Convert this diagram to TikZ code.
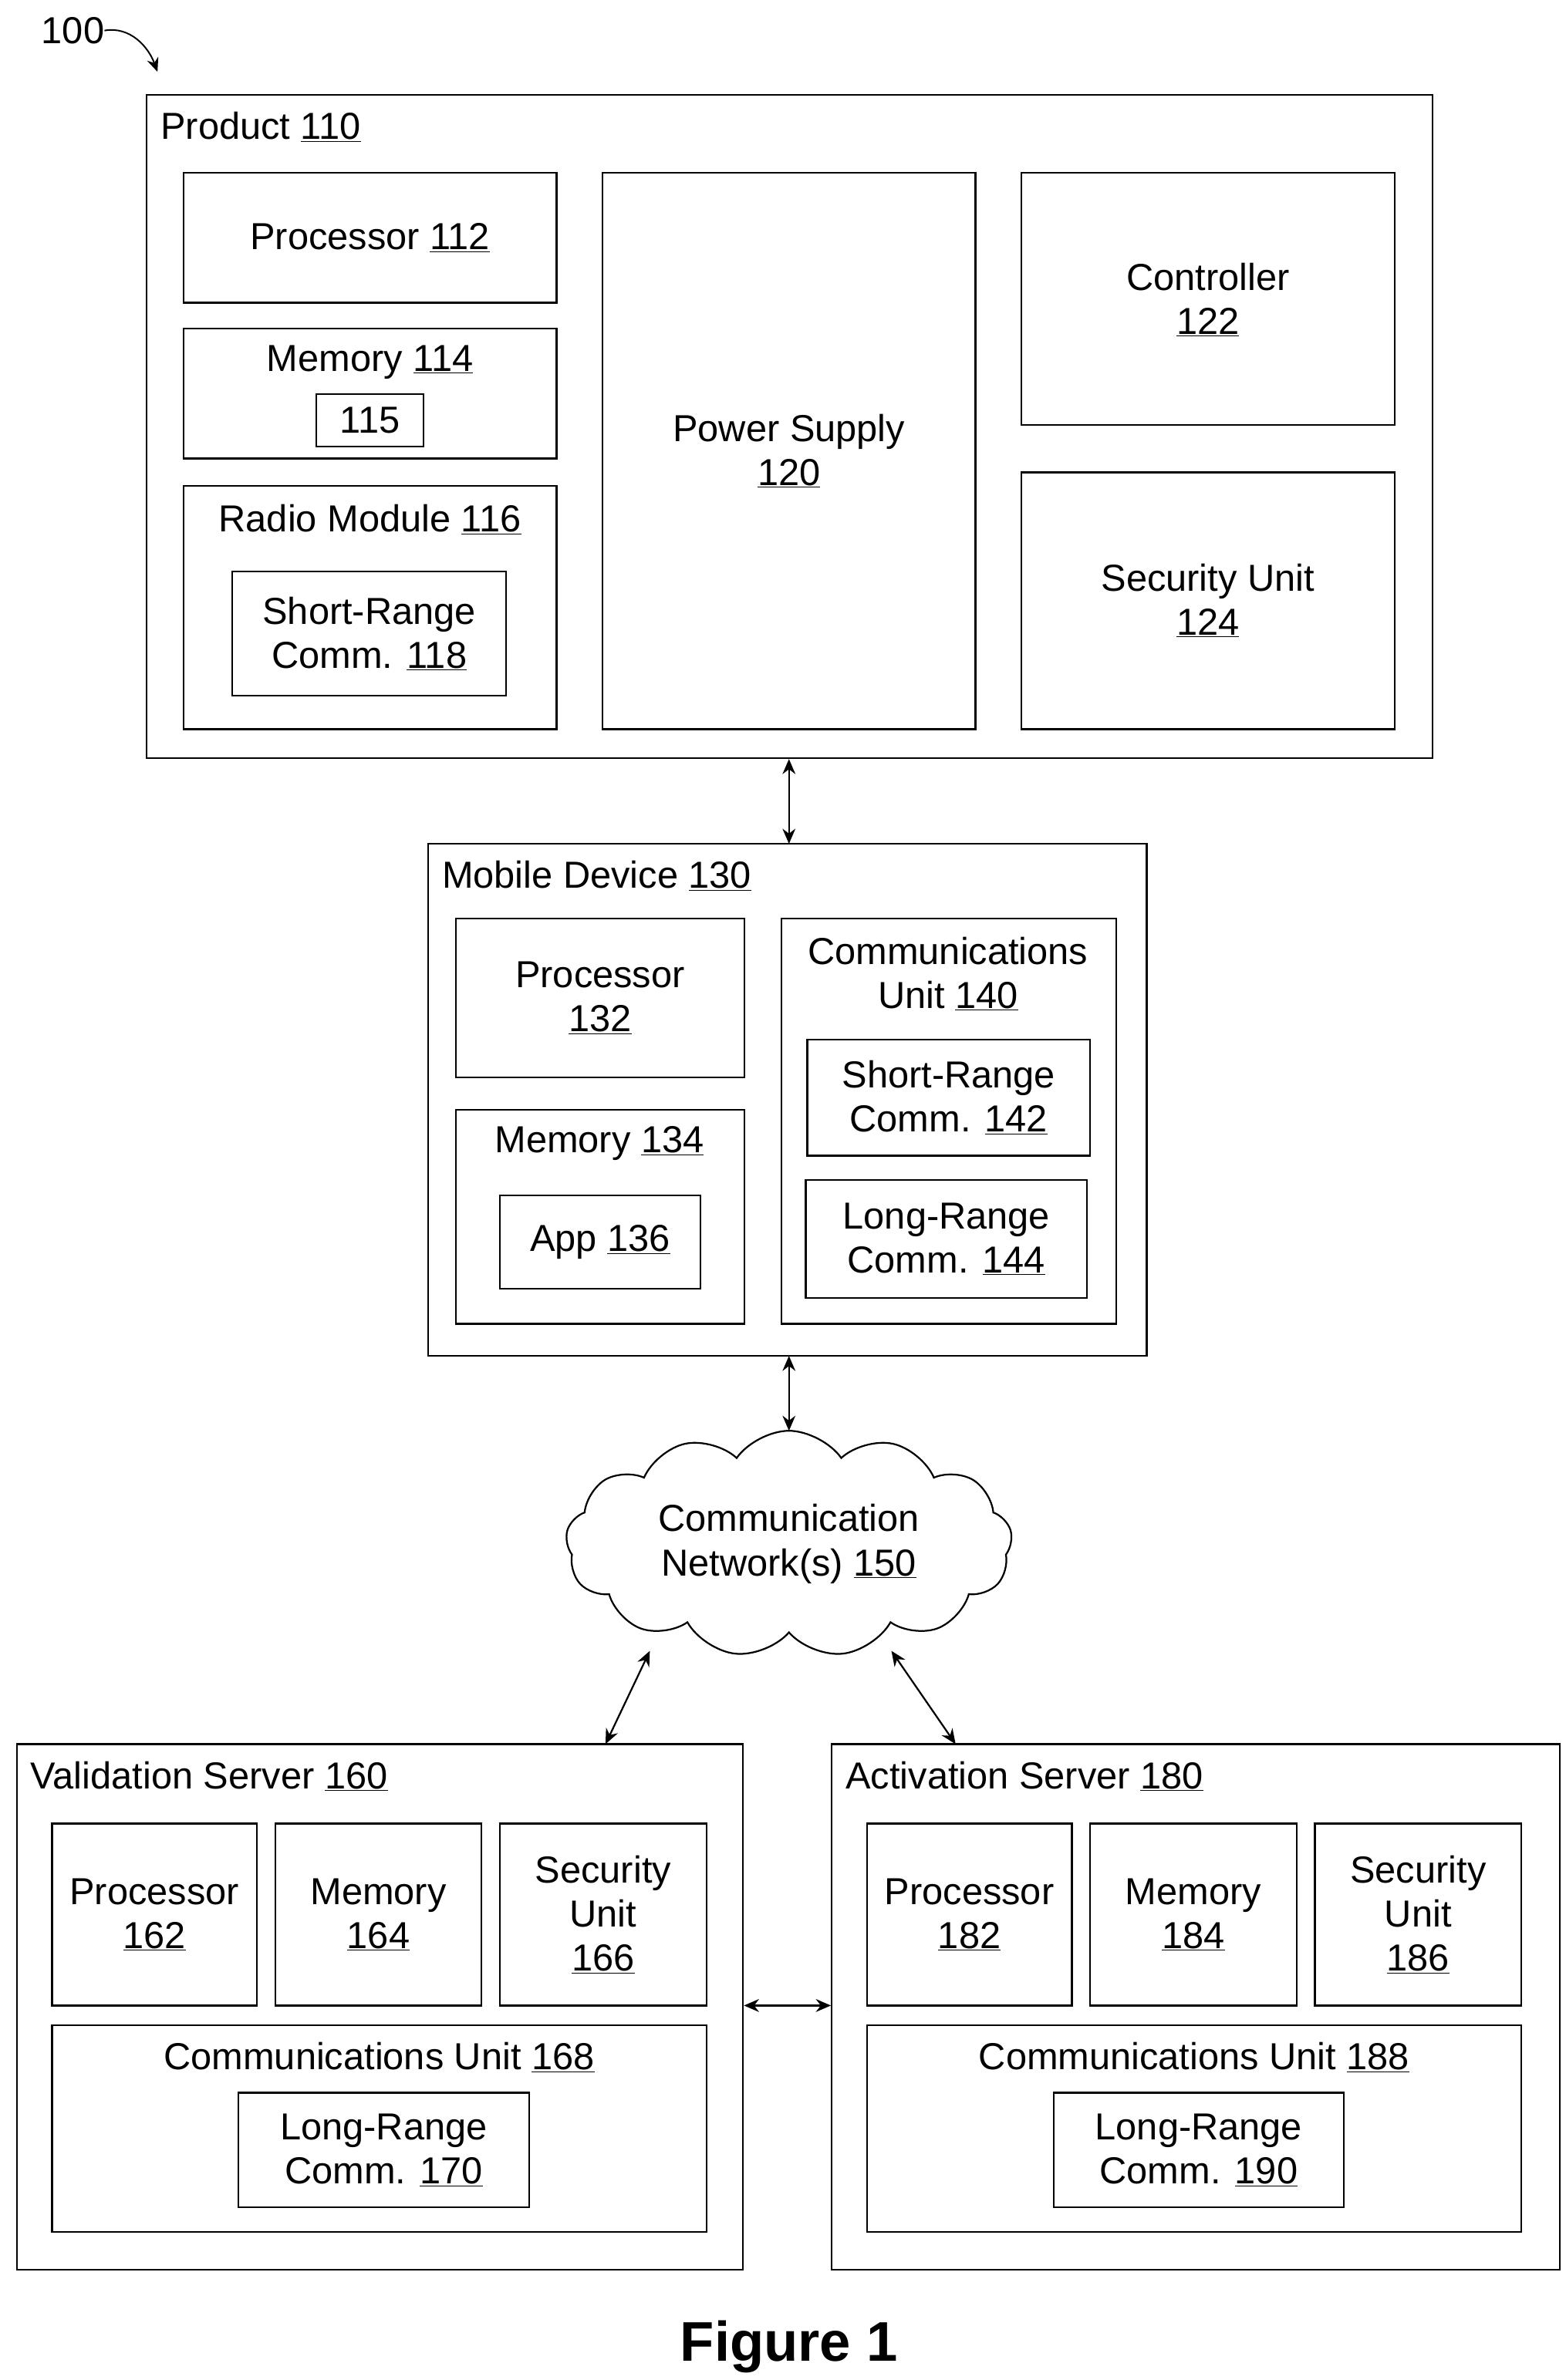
\documentclass[tikz,border=0pt]{standalone}
\usepackage{fontspec}
\setmainfont{Liberation Sans}
\usetikzlibrary{fit,shapes.symbols,arrows.meta}
\newcommand{\num}[1]{\underline{#1}}
\tikzset{
  box/.style={draw, line width=1.6pt, inner sep=0pt},
  txt/.style={font=\fontsize{35}{41}\selectfont, align=center, inner sep=0pt},
  link/.style={line width=1.6pt, {Stealth[length=14pt,width=12pt]}-{Stealth[length=14pt,width=12pt]}}
}
\begin{document}
\begin{tikzpicture}[x=0.05cm,y=-0.05cm]
        \useasboundingbox (0,0) rectangle (1024,1557);
        % product
        \node[box, fit={(96,62)(937,496)}] (prod) {};
        \node[txt, anchor=west] (prodlbl) at (105,83) {Product \num{110}};
        \node[box, fit={(120,113)(364,198)}] (cpu112) {};
        \node[txt] at (cpu112) {Processor \num{112}};
        \node[box, fit={(120,215)(364,300)}] (mem114) {};
        \node[txt] at (242,237) {Memory \num{114}};
        \node[box, fit={(207,258)(277,292)}] (m115) {};
        \node[txt] at (m115) {115};
        \node[box, fit={(120,318)(364,477)}] (rad116) {};
        \node[txt] at (242,340) {Radio Module \num{116}};
        \node[box, fit={(152,374)(331,455)}] (src118) {};
        \node[txt] at (src118) {Short-Range\\Comm. \num{118}};
        \node[box, fit={(394,113)(638,477)}] (pwr120) {};
        \node[txt] at (516,295) {Power Supply\\\num{120}};
        \node[box, fit={(668,113)(912,278)}] (ctl122) {};
        \node[txt] at (790,196) {Controller\\\num{122}};
        \node[box, fit={(668,309)(912,477)}] (sec124) {};
        \node[txt] at (790,393) {Security Unit\\\num{124}};
        % mobile device
        \node[box, fit={(280,552)(750,887)}] (mob) {};
        \node[txt, anchor=west] at (289,573) {Mobile Device \num{130}};
        \node[box, fit={(298,601)(487,705)}] (cpu132) {};
        \node[txt] at (cpu132) {Processor\\\num{132}};
        \node[box, fit={(298,726)(487,866)}] (mem134) {};
        \node[txt] at (392,748) {Memory \num{134}};
        \node[box, fit={(327,782)(458,843)}] (app136) {};
        \node[txt] at (app136) {App \num{136}};
        \node[box, fit={(511,601)(730,866)}] (com140) {};
        \node[txt] at (620,637) {Communications\\Unit \num{140}};
        \node[box, fit={(528,680)(713,756)}] (src142) {};
        \node[txt] at (src142) {Short-Range\\Comm. \num{142}};
        \node[box, fit={(527,772)(711,849)}] (lrc144) {};
        \node[txt] at (lrc144) {Long-Range\\Comm. \num{144}};
        % network
        \node[cloud, draw, line width=1.6pt, cloud puffs=13, cloud puff arc=110,
              cloud ignores aspect, minimum width=14.6cm, minimum height=7.4cm] (net) at (516,1010) {};
        \node[txt] at (net) {Communication\\Network(s) \num{150}};
        % validation server
        \node[box, fit={(11,1141)(486,1485)}] (val) {};
        \node[txt, anchor=west] at (20,1162) {Validation Server \num{160}};
        \node[box, fit={(34,1193)(168,1312)}] (cpu162) {};
        \node[txt] at (cpu162) {Processor\\\num{162}};
        \node[box, fit={(180,1193)(315,1312)}] (mem164) {};
        \node[txt] at (mem164) {Memory\\\num{164}};
        \node[box, fit={(327,1193)(462,1312)}] (sec166) {};
        \node[txt] at (sec166) {Security\\Unit\\\num{166}};
        \node[box, fit={(34,1325)(462,1460)}] (com168) {};
        \node[txt] at (248,1346) {Communications Unit \num{168}};
        \node[box, fit={(156,1369)(346,1444)}] (lrc170) {};
        \node[txt] at (lrc170) {Long-Range\\Comm. \num{170}};
        % activation server
        \node[box, fit={(544,1141)(1020,1485)}] (act) {};
        \node[txt, anchor=west] at (553,1162) {Activation Server \num{180}};
        \node[box, fit={(567,1193)(701,1312)}] (cpu182) {};
        \node[txt] at (cpu182) {Processor\\\num{182}};
        \node[box, fit={(713,1193)(848,1312)}] (mem184) {};
        \node[txt] at (mem184) {Memory\\\num{184}};
        \node[box, fit={(860,1193)(995,1312)}] (sec186) {};
        \node[txt] at (sec186) {Security\\Unit\\\num{186}};
        \node[box, fit={(567,1325)(995,1460)}] (com188) {};
        \node[txt] at (781,1346) {Communications Unit \num{188}};
        \node[box, fit={(689,1369)(879,1444)}] (lrc190) {};
        \node[txt] at (lrc190) {Long-Range\\Comm. \num{190}};
        % connectors
        \coordinate (netsw) at (425,1080);
        \coordinate (netse) at (583,1080);
        \coordinate (valtop) at (396,1141);
        \coordinate (acttop) at (625,1141);
        \coordinate (mobtop) at (516,552);
        \coordinate (mobbot) at (516,887);
        \coordinate (nettop) at (516,936);
        \draw[link] (prod.south -| mobtop) -- (mobtop);
        \draw[link] (mobbot) -- (nettop);
        \draw[link] (netsw) -- (valtop);
        \draw[link] (netse) -- (acttop);
        \draw[link] (val.east |- 0,1312) -- (act.west |- 0,1312);
        % reference label
        \node[txt, anchor=west] (ref) at (27,20) {100};
        \coordinate (refend) at (103,47);
        \draw[line width=1.4pt, -{Stealth[length=13pt,width=11pt]}] (ref.east) to[out=10, in=110] (refend);
        \node[txt, font=\fontsize{52}{60}\selectfont\bfseries] (fig) at (516,1535) {Figure 1};
\end{tikzpicture}
\end{document}
